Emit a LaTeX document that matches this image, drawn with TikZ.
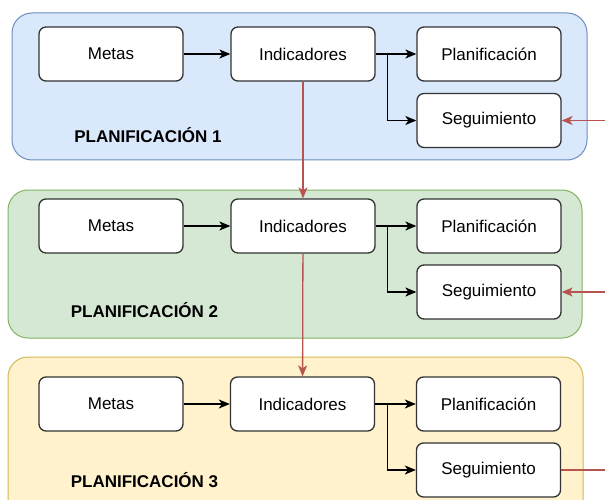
\documentclass[tikz,border=0pt]{standalone}
\usepackage{fontspec}
\setmainfont{Liberation Sans}
\usetikzlibrary{arrows.meta}
\definecolor{bluef}{HTML}{DAE8FC}\definecolor{blued}{HTML}{6C8EBF}
\definecolor{greenf}{HTML}{D5E8D4}\definecolor{greend}{HTML}{82B366}
\definecolor{yellowf}{HTML}{FFF2CC}\definecolor{yellowd}{HTML}{D6B656}
\definecolor{redd}{HTML}{B85450}\definecolor{boxd}{HTML}{333333}
\tikzset{
  cont/.style={rounded corners=20pt, line width=1pt},
  box/.style={draw=boxd, fill=white, rounded corners=7pt, line width=1.3pt, minimum width=144pt, minimum height=54pt, inner sep=0pt, font=\fontsize{17}{20}\selectfont},
  lbl/.style={font=\fontsize{17}{20}\selectfont\bfseries, text=black},
  blk/.style={draw=black, line width=1.2pt, -{Stealth[length=11pt,width=9pt,inset=3pt]}},
  redarr/.style={draw=redd, line width=1.3pt, -{Stealth[length=11pt,width=9pt,inset=3pt]}},
  redline/.style={draw=redd, line width=1.3pt}
}
\begin{document}
\begin{tikzpicture}[x=1pt,y=-1pt]
\clip (0,0) rectangle (605,500);
\fill[white] (0,0) rectangle (605,500);
% containers
\draw[cont, fill=bluef, draw=blued] (12,13) rectangle (587,160);
\draw[cont, fill=greenf, draw=greend] (8,190) rectangle (582,338);
\draw[cont, fill=yellowf, draw=yellowd] (8,357) rectangle (583,530);
% row 1
\node[box] (m1) at (111,54) {Metas};
\node[box] (i1) at (303,54) {Indicadores};
\node[box] (p1) at (489,54) {Planificación};
\node[box] (s1) at (489,120.5) {Seguimiento};
\node[lbl] (l1) at (148,135) {PLANIFICACIÓN 1};
% row 2
\node[box] (m2) at (111,226) {Metas};
\node[box] (i2) at (303,226) {Indicadores};
\node[box] (p2) at (489,226) {Planificación};
\node[box] (s2) at (489,292) {Seguimiento};
\node[lbl] (l2) at (144.5,310) {PLANIFICACIÓN 2};
% row 3
\node[box] (m3) at (111,404) {Metas};
\node[box] (i3) at (302.5,404) {Indicadores};
\node[box] (p3) at (488.5,404) {Planificación};
\node[box] (s3) at (488.5,470) {Seguimiento};
\node[lbl] (l3) at (144.5,480) {PLANIFICACIÓN 3};
% black connectors
\foreach \r in {1,2,3}{
  \draw[blk] (m\r) -- (i\r);
  \draw[blk] (i\r) -- (p\r);
  \coordinate (b\r) at ([xshift=12pt]i\r.east);
  \draw[blk] (b\r) |- (s\r.west);
}
% red connectors
\draw[redarr] (i1) -- (i2);
\draw[redarr] (i2) -- (i3);
\coordinate (e1) at (606,120.5);
\coordinate (e2) at (606,292);
\coordinate (e3) at (606,470);
\draw[redarr] (e1) -- (s1);
\draw[redarr] (e2) -- (s2);
\draw[redline] (e3) -- (s3);
\end{tikzpicture}
\end{document}
